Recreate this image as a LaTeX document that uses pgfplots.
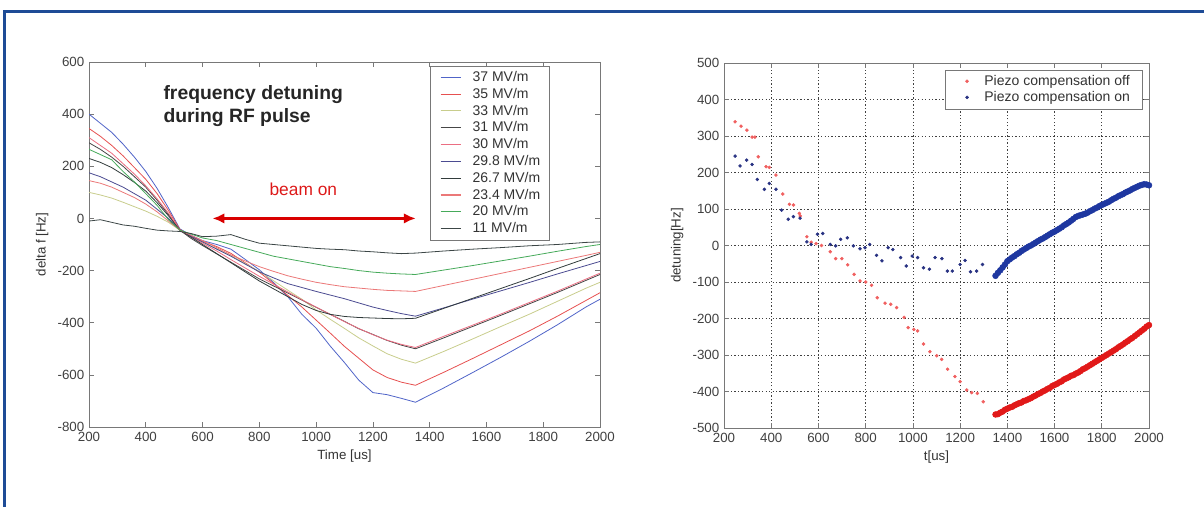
\documentclass[border=0pt]{standalone}
\usepackage{fontspec}
\setmainfont{Liberation Sans}
\usepackage{pgfplots}
\usepackage{pgfplotstable}
\pgfplotsset{compat=1.18}
\usetikzlibrary{arrows.meta}

\definecolor{frameblue}{RGB}{30,75,150}
\definecolor{axgray}{RGB}{120,120,120}
\definecolor{c37}{RGB}{80,100,200}
\definecolor{c35}{RGB}{230,80,80}
\definecolor{c33}{RGB}{200,205,140}
\definecolor{c31}{RGB}{70,70,70}
\definecolor{c30}{RGB}{235,110,130}
\definecolor{c29}{RGB}{75,75,145}
\definecolor{c26}{RGB}{50,60,60}
\definecolor{c23}{RGB}{235,120,120}
\definecolor{c20}{RGB}{70,170,90}
\definecolor{c11}{RGB}{60,70,70}
\definecolor{offred}{RGB}{240,95,95}
\definecolor{offreddense}{RGB}{225,25,25}
\definecolor{onblue}{RGB}{40,50,130}
\definecolor{onbluedense}{RGB}{30,55,160}

% detuning curves, one column per gradient
\pgfplotstableread{
t    c37  c35  c33  c31  c30  c29  c26  c23  c20  c11
200  400  345  100  290  310  175  230  145  265  -10
240  365  315   90  265  280  160  215  135  245   -5
280  330  280   78  235  250  140  195  120  225  -15
320  285  240   62  200  210  120  168  100  180  -25
360  235  195   45  160  170   95  138   80  140  -30
400  180  150   28  120  125   70  105   55   95  -38
440  115   95    8   70   75   35   60   25   50  -45
480   40   30  -15   15   20    0   10  -10   -5  -48
520  -40  -42  -45  -45  -45  -45  -45  -45  -45  -50
560  -65  -69  -71  -77  -70  -68  -72  -65  -60  -58
600  -85  -87  -91 -104  -95  -90 -100  -85  -75  -70
650 -100 -108 -116 -136 -125 -118 -135 -112  -85  -68
700 -118 -134 -142 -168 -158 -145 -170 -140 -100  -62
750 -157 -170 -173 -200 -190 -175 -205 -163 -115  -80
800 -197 -206 -203 -232 -222 -205 -240 -185 -130  -95
850 -246 -250 -239 -259 -252 -228 -270 -203 -145 -100
900 -300 -295 -275 -286 -282 -250 -300 -220 -155 -105
950 -368 -340 -310 -313 -312 -265 -330 -233 -165 -110
1000 -421 -390 -351 -341 -340 -280 -353 -245 -175 -115
1050 -490 -440 -387 -368 -368 -294 -368 -254 -185 -118
1100 -553 -491 -422 -395 -396 -308 -376 -262 -192 -120
1150 -620 -536 -458 -423 -422 -324 -380 -267 -200 -125
1200 -668 -581 -489 -445 -446 -340 -382 -272 -206 -128
1250 -676 -610 -519 -468 -467 -353 -384 -276 -210 -132
1300 -690 -628 -540 -486 -483 -365 -385 -278 -213 -135
1350 -705 -640 -555 -500 -495 -375 -383 -280 -215 -133
1450 -650 -590 -510 -458 -452 -343 -345 -257 -198 -125
1550 -592 -538 -463 -415 -410 -310 -307 -234 -181 -118
1650 -533 -485 -415 -372 -367 -278 -269 -211 -163 -112
1750 -472 -432 -368 -328 -323 -246 -231 -188 -145 -105
1850 -408 -375 -318 -284 -279 -213 -192 -165 -126 -100
1950 -340 -315 -268 -238 -233 -181 -154 -142 -108  -92
2000 -310 -285 -245 -215 -210 -165 -135 -130 -100  -90
}\detuning

% piezo off, before and during beam (sparse samples)
\pgfplotstableread{
t f
247 339
272 327
297 316
319 297
331 297
345 243
378 216
392 214
420 193
449 141
477 113
494 111
519 88
523 81
551 24
569 9
590 5
613 0
650 -17
673 -36
699 -36
724 -53
751 -79
776 -97
800 -100
825 -109
849 -143
882 -158
906 -161
931 -170
963 -197
980 -225
1004 -230
1020 -234
1045 -270
1072 -291
1101 -302
1122 -312
1147 -339
1178 -359
1200 -373
1228 -396
1249 -403
1273 -405
1298 -428
}\offsparse

\pgfplotstableread{
t f
247 245
268 218
296 234
319 222
341 181
371 154
392 170
420 154
444 97
472 72
494 79
522 75
551 10
569 3
596 31
618 33
650 3
673 -1
694 17
722 21
748 -1
776 -9
797 -6
817 3
846 -27
869 -42
895 -6
915 -11
948 -33
972 -56
997 -29
1020 -33
1045 -61
1070 -65
1094 -33
1123 -36
1146 -70
1167 -70
1200 -52
1221 -41
1244 -72
1270 -70
1295 -52
}\onsparse

% after the beam, densely sampled
\pgfplotstableread{
t f
1350 -463
1360 -462
1370 -458
1380 -455
1390 -450
1400 -447
1410 -444
1420 -442
1430 -438
1440 -435
1450 -432
1460 -430
1470 -426
1480 -424
1490 -421
1500 -418
1510 -414
1520 -411
1530 -407
1540 -404
1550 -400
1560 -397
1570 -393
1580 -390
1590 -385
1600 -382
1610 -379
1620 -375
1630 -372
1640 -367
1650 -364
1660 -361
1670 -357
1680 -355
1690 -351
1700 -348
1710 -344
1720 -339
1730 -336
1740 -332
1750 -328
1760 -324
1770 -320
1780 -316
1790 -312
1800 -308
1810 -304
1820 -300
1830 -296
1840 -292
1850 -288
1860 -284
1870 -279
1880 -275
1890 -271
1900 -266
1910 -262
1920 -257
1930 -253
1940 -248
1950 -243
1960 -238
1970 -233
1980 -228
1990 -222
2000 -218
}\offdense

\pgfplotstableread{
t f
1350 -83
1360 -75
1370 -68
1380 -60
1390 -52
1400 -43
1410 -38
1420 -33
1430 -29
1440 -24
1450 -20
1460 -15
1470 -11
1480 -7
1490 -3
1500 0
1510 4
1520 8
1530 12
1540 16
1550 19
1560 23
1570 27
1580 31
1590 35
1600 38
1610 42
1620 46
1630 50
1640 55
1650 59
1660 63
1670 68
1680 73
1690 78
1700 81
1710 83
1720 85
1730 87
1740 90
1750 94
1760 97
1770 101
1780 104
1790 108
1800 111
1810 114
1820 117
1830 120
1840 124
1850 128
1860 131
1870 135
1880 138
1890 141
1900 145
1910 148
1920 151
1930 155
1940 158
1950 161
1960 164
1970 166
1980 168
1990 167
2000 165
}\ondense

\pgfplotsset{
  matlab/.style={
    scale only axis,
    height=273.75pt,
    xmin=200, xmax=2000,
    xtick={200,400,...,2000},
    axis line style={draw=axgray, line width=0.6pt},
    tick style={draw=axgray, line width=0.5pt},
    tick align=inside,
    major tick length=4pt,
    ticklabel style={font=\fontsize{10}{12}\selectfont, text=black!75},
    label style={font=\fontsize{10}{12}\selectfont, text=black!80},
    /pgf/number format/assume math mode=true,
    /pgf/number format/1000 sep={},
  },
}

\begin{document}
\begin{tikzpicture}
\path[use as bounding box] (0,0) rectangle (903pt,380.25pt);
\draw[frameblue, line width=2.25pt] (3pt,0) -- (3pt,371.6pt) -- (903pt,371.6pt);

% left: detuning for several gradients
\begin{axis}[matlab,
  at={(66.75pt,60pt)}, anchor=south west,
  width=383.25pt,
  ymin=-800, ymax=600,
  ytick={-800,-600,...,600},
  xlabel={Time [us]}, ylabel={delta f [Hz]},
  legend style={at={(0.668,0.99)}, anchor=north west, draw=axgray,
    font=\fontsize{10.5}{12}\selectfont, text=black!80,
    inner xsep=4.5pt, inner ysep=2pt, row sep=-0.5pt, cells={anchor=west}},
  legend image code/.code={\path[draw=none, fill=none] (0pt,0pt) -- (25pt,0pt);
    \draw[#1, line width=0.8pt] (3pt,0pt) -- (18pt,0pt);},
  every axis plot/.append style={line width=0.6pt},
]
\addplot[color=c37] table[x=t, y=c37] {\detuning};
\addplot[color=c35] table[x=t, y=c35] {\detuning};
\addplot[color=c33] table[x=t, y=c33] {\detuning};
\addplot[color=c31] table[x=t, y=c31] {\detuning};
\addplot[color=c30] table[x=t, y=c30] {\detuning};
\addplot[color=c29] table[x=t, y=c29] {\detuning};
\addplot[color=c26] table[x=t, y=c26] {\detuning};
\addplot[color=c23] table[x=t, y=c23] {\detuning};
\addplot[color=c20] table[x=t, y=c20] {\detuning};
\addplot[color=c11] table[x=t, y=c11] {\detuning};
\legend{37 MV/m, 35 MV/m, 33 MV/m, 31 MV/m, 30 MV/m, 29.8 MV/m, 26.7 MV/m, 23.4 MV/m, 20 MV/m, 11 MV/m}
\node[anchor=west, align=left, font=\fontsize{14.5}{17}\selectfont\bfseries, text=black!85]
  at (axis cs:446,432) {frequency detuning\\during RF pulse};
\node[font=\fontsize{13}{15}\selectfont, text=red!85!black!90] at (axis cs:955,110) {beam on};
\draw[{Latex[length=9pt,width=8pt]}-{Latex[length=9pt,width=8pt]}, red!85!black, line width=2.2pt]
  (axis cs:635,0) -- (axis cs:1351,0);
\end{axis}

% right: piezo compensation off/on
\begin{axis}[matlab,
  at={(543pt,59.25pt)}, anchor=south west,
  width=318.75pt,
  ymin=-500, ymax=500,
  ytick={-500,-400,...,500},
  grid=major,
  major grid style={draw=black!75, line width=0.5pt, dash pattern=on 1pt off 1.6pt},
  xlabel={t[us]}, ylabel={detuning[Hz]},
  legend style={at={(0.984,0.982)}, anchor=north east, draw=axgray,
    font=\fontsize{10.5}{12}\selectfont, text=black!80,
    inner xsep=7pt, inner ysep=2pt, row sep=-1pt, cells={anchor=west}},
  legend image code/.code={\path[draw=none, fill=none] (0pt,0pt) -- (20pt,0pt);
    \draw[#1] plot coordinates {(9pt,0pt)};},
]
\addplot[only marks, mark=*, mark size=1.1pt, color=offred] table[x=t, y=f] {\offsparse};
\addplot[only marks, mark=*, mark size=1.1pt, color=onblue] table[x=t, y=f] {\onsparse};
\addplot[only marks, mark=*, mark size=2.2pt, color=offreddense, forget plot] table[x=t, y=f] {\offdense};
\addplot[only marks, mark=*, mark size=2.2pt, color=onbluedense, forget plot] table[x=t, y=f] {\ondense};
\legend{Piezo compensation off, Piezo compensation on}
\end{axis}
\end{tikzpicture}
\end{document}
